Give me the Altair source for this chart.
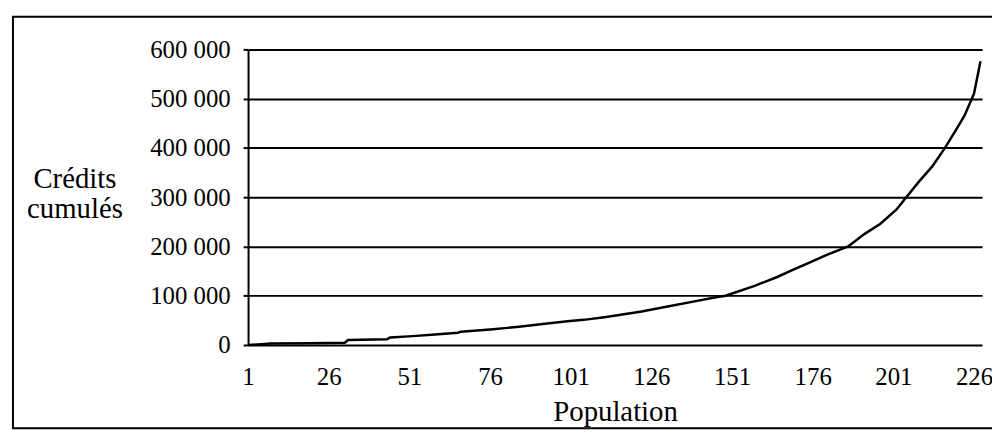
import altair as alt
import pandas as pd

# Population rank (x) and cumulative credits (y)
population = [1, 5, 8, 20, 31, 32, 44, 45, 52, 60, 66, 67, 77, 85, 93, 100,
              105, 112, 123, 131, 139, 146, 149, 158, 165, 170, 175, 180, 187,
              192, 197, 202, 205, 209, 213, 217, 220, 223, 226, 228]
credits = [0, 1500, 3000, 3500, 4500, 10000, 11500, 15000, 18000, 22000, 25000,
           27000, 32000, 37000, 43000, 48000, 51000, 57000, 68000, 78000, 88000,
           97000, 100000, 120000, 138000, 153000, 167000, 182000, 200000, 225000,
           246000, 275000, 300000, 332000, 362000, 400000, 432000,
           465000, 510000, 576000]

x_ticks = [1, 26, 51, 76, 101, 126, 151, 176, 201, 226]
y_ticks = [0, 100000, 200000, 300000, 400000, 500000, 600000]

df = pd.DataFrame({"Population": population, "Credits": credits})

FONT = "Liberation Serif"

line = alt.Chart(df).mark_line(color="black", strokeWidth=2.5).encode(
    x=alt.X("Population:Q",
            scale=alt.Scale(domain=[1, 228.5], nice=False, zero=False),
            axis=alt.Axis(values=x_ticks, ticks=False, domain=False, grid=False,
                          labelFont=FONT, labelFontSize=25, labelColor="black",
                          labelPadding=20, labelFlush=False, labelOverlap=False,
                          title="Population", titleFont=FONT, titleFontSize=29,
                          titleFontWeight="normal", titleColor="black",
                          titleBaseline="alphabetic", titleY=76)),
    y=alt.Y("Credits:Q",
            scale=alt.Scale(domain=[0, 600000], nice=False),
            axis=alt.Axis(values=y_ticks,
                          labelExpr="replace(format(datum.value, ','), ',', ' ')",
                          grid=True, gridColor="black", gridWidth=2, gridOpacity=1,
                          domainColor="black", domainWidth=2,
                          tickColor="black", tickSize=5, tickWidth=2,
                          labelFont=FONT, labelFontSize=25, labelColor="black",
                          labelPadding=13, labelFlush=False, labelOverlap=False,
                          title=["Crédits", "cumulés"], titleAngle=0,
                          titleAlign="center", titleBaseline="alphabetic",
                          titleX=-175, titleY=139, titleFont=FONT,
                          titleFontSize=29, titleFontWeight="normal",
                          titleColor="black", titleLineHeight=30)),
)

frame = alt.Chart(alt.Data(values=[{}])).mark_rect(
    filled=False, stroke="black", strokeWidth=2
).encode(
    x=alt.value(-237), x2=alt.value(760),
    y=alt.value(-33), y2=alt.value(382),
)

chart = alt.layer(frame, line).properties(
    width=740, height=298,
    autosize=alt.AutoSizeParams(type="none"),
    padding={"left": 242, "top": 40, "right": 10, "bottom": 86},
    background="white",
).configure_view(stroke=None)

chart.save("out.html", embed_options={"renderer": "svg", "actions": False})
